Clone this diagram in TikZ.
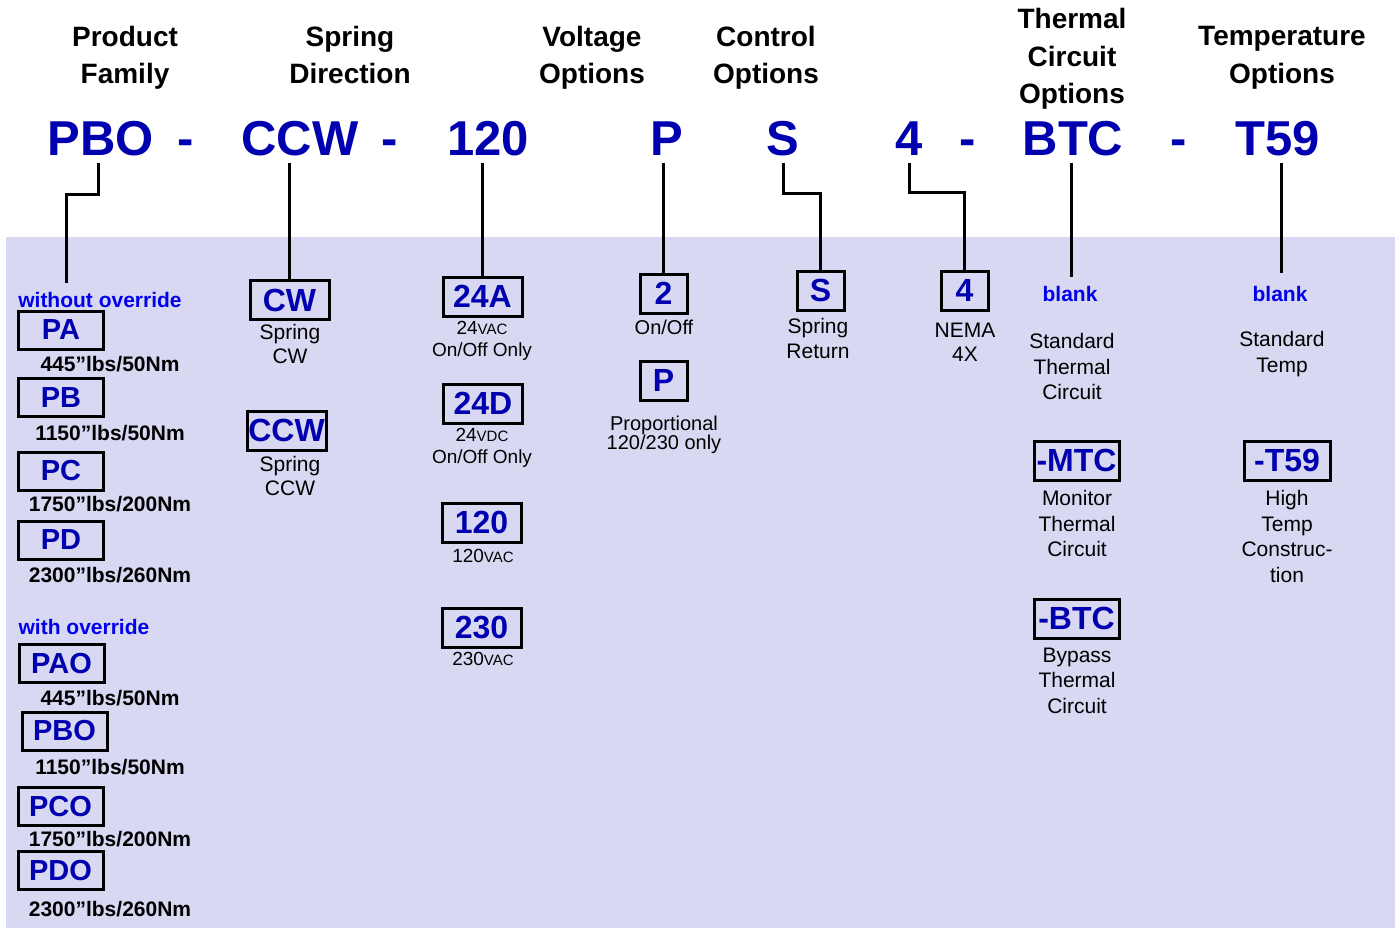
\documentclass[tikz,border=0pt]{standalone}
\usepackage{fontspec}
\setmainfont{Liberation Sans}
\definecolor{bgcol}{RGB}{216,216,242}
\definecolor{codeblue}{RGB}{0,0,175}
\definecolor{brightblue}{RGB}{0,0,235}
\newcommand{\smv}[1]{{\fontsize{15}{18}\selectfont #1}}
\begin{document}
\begin{tikzpicture}[x=1pt,y=-1pt,
  hdr/.style={font=\bfseries\fontsize{28}{37.5}\selectfont, align=center, inner sep=0},
  code/.style={font=\bfseries\fontsize{49}{55}\selectfont, text=codeblue, anchor=base, inner sep=0, outer ysep=7pt},
  box/.style={draw=black, line width=3pt, inner sep=0, font=\bfseries\fontsize{32}{36}\selectfont, text=codeblue},
  lbox/.style={box, font=\bfseries\fontsize{29}{32}\selectfont, minimum width=85pt, minimum height=38pt},
  sbox/.style={box, minimum width=47pt, minimum height=39pt},
  wbox/.style={box, minimum width=79pt, minimum height=39pt},
  tbox/.style={box, minimum width=85pt, minimum height=39pt},
  desc/.style={font=\fontsize{21}{25}\selectfont, align=center, inner sep=0},
  vdesc/.style={font=\fontsize{19}{22}\selectfont, align=center, inner sep=0},
  torque/.style={font=\bfseries\fontsize{21}{24}\selectfont, inner sep=0},
  sel/.style={font=\bfseries\fontsize{21}{24}\selectfont, text=brightblue, inner sep=0},
  conn/.style={draw=black, line width=3pt}
]
\useasboundingbox (0,0) rectangle (1395,928);
\fill[bgcol] (6,237) rectangle (1395,928);

% headers
\node[hdr] (hPF) at (125,58) {Product\\Family};
\node[hdr] (hSD) at (350,55) {Spring\\Direction};
\node[hdr] (hVO) at (592,58) {Voltage\\Options};
\node[hdr] (hCO) at (766,58) {Control\\Options};
\node[hdr] (hTC) at (1072,59) {Thermal\\Circuit\\Options};
\node[hdr] (hTO) at (1282,58) {Temperature\\Options};

% code row
\node[code] (cPBO) at (101,156) {PBO};
\node[code] (d1) at (186,156) {-};
\node[code] (cCCW) at (300,156) {CCW};
\node[code] (d2) at (390,156) {-};
\node[code] (c120) at (488,156) {120};
\node[code] (cP) at (667,156) {P};
\node[code] (cS) at (783,156) {S};
\node[code] (c4) at (909,156) {4};
\node[code] (d3) at (968,156) {-};
\node[code] (cBTC) at (1073,156) {BTC};
\node[code] (d4) at (1179,156) {-};
\node[code] (cT59) at (1278,156) {T59};

% product family
\node[sel] (lWO) at (100,300) {without override};
\node[lbox] (bPA) at (61,330) {PA};
\node[torque] (l1) at (110,364) {445”lbs/50Nm};
\node[lbox] (bPB) at (61,397.5) {PB};
\node[torque] (l2) at (110,433) {1150”lbs/50Nm};
\node[lbox] (bPC) at (61,471) {PC};
\node[torque] (l3) at (110,504) {1750”lbs/200Nm};
\node[lbox] (bPD) at (61,540) {PD};
\node[torque] (l4) at (110,575) {2300”lbs/260Nm};
\node[sel] (lW) at (84,627) {with override};
\node[lbox] (bPAO) at (61.5,663.5) {PAO};
\node[torque] (l5) at (110,698) {445”lbs/50Nm};
\node[lbox] (bPBO) at (64.5,731) {PBO};
\node[torque] (l6) at (110,767) {1150”lbs/50Nm};
\node[lbox] (bPCO) at (60.5,806.5) {PCO};
\node[torque] (l7) at (110,839) {1750”lbs/200Nm};
\node[lbox] (bPDO) at (60.5,870.5) {PDO};
\node[torque] (l8) at (110,909) {2300”lbs/260Nm};

% spring direction
\node[wbox] (bCW) at (289.5,300) {CW};
\node[desc, font=\fontsize{21}{24}\selectfont] (sCW) at (290,344) {Spring\\CW};
\node[wbox] (bCCW) at (286.5,430.5) {CCW};
\node[desc, font=\fontsize{21}{24}\selectfont] (sCCW) at (290,476) {Spring\\CCW};

% voltage
\node[wbox] (b24A) at (482.5,296.5) {24A};
\node[vdesc] (s24A) at (482,341) {24\smv{VAC}\\On/Off Only};
\node[wbox] (b24D) at (483,403.5) {24D};
\node[vdesc] (s24D) at (482,448) {24\smv{VDC}\\On/Off Only};
\node[wbox] (b120) at (481.5,522.5) {120};
\node[vdesc] (s120) at (483,556) {120\smv{VAC}};
\node[wbox] (b230) at (481.5,628) {230};
\node[vdesc] (s230) at (483,659) {230\smv{VAC}};

% control
\node[sbox] (b2) at (663.5,293.5) {2};
\node[desc, font=\fontsize{20}{24}\selectfont] (s2) at (664,327) {On/Off};
\node[sbox] (bP) at (663.5,380.5) {P};
\node[desc, font=\fontsize{20}{19}\selectfont] (sP) at (664,435) {Proportional\\120/230 only};
\node[sbox] (bS) at (820.5,290.5) {S};
\node[desc, font=\fontsize{21}{25}\selectfont] (sS) at (818,338.5) {Spring\\Return};
\node[sbox] (b4) at (964.5,290.5) {4};
\node[desc, font=\fontsize{21}{24}\selectfont] (s4) at (965,342) {NEMA\\4X};

% thermal
\node[sel] (blank1) at (1070,294) {blank};
\node[desc, font=\fontsize{21}{25.5}\selectfont] (sT1) at (1072,366.5) {Standard\\Thermal\\Circuit};
\node[tbox] (bMTC) at (1076.5,460.5) {-MTC};
\node[desc, font=\fontsize{21}{25.5}\selectfont] (sMTC) at (1077,523.5) {Monitor\\Thermal\\Circuit};
\node[tbox] (bBTC) at (1076.5,618.5) {-BTC};
\node[desc, font=\fontsize{21}{25.5}\selectfont] (sBTC) at (1077,680.5) {Bypass\\Thermal\\Circuit};

% temperature
\node[sel] (blank2) at (1280,294) {blank};
\node[desc, font=\fontsize{21}{26}\selectfont] (sTT) at (1282,354) {Standard\\Temp};
\node[tbox, minimum width=86pt] (bT59) at (1287,460.5) {-T59};
\node[desc, font=\fontsize{21}{25.7}\selectfont] (sT59) at (1287,536.5) {High\\Temp\\Construc-\\tion};

% connectors
\coordinate (pbEnd) at (66,283);
\coordinate (bl1) at (1071,277);
\coordinate (bl2) at (1281,273);
\draw[conn] ([xshift=-3pt]cPBO.south) -- ++(0,31) -| (pbEnd);
\draw[conn] (bCW.north) -- (bCW.north |- cCCW.south);
\draw[conn] (b24A.north) -- (b24A.north |- c120.south);
\draw[conn] (b2.north) -- (b2.north |- cP.south);
\draw[conn] (cS.south) -- ++(0,30) -| (bS.north);
\draw[conn] (c4.south) -- ++(0,30) -| (b4.north);
\draw[conn] (bl1 |- cBTC.south) -- (bl1);
\draw[conn] (bl2 |- cT59.south) -- (bl2);
\end{tikzpicture}
\end{document}
